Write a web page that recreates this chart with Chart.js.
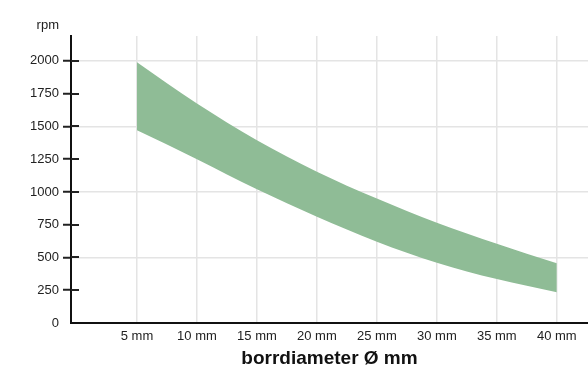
<!DOCTYPE html>
<html>
<head>
<meta charset="utf-8">
<script src="https://cdn.jsdelivr.net/npm/chart.js@4"></script>
<style>
  html, body { margin: 0; padding: 0; background: #fff; }
  #wrap { width: 588px; height: 368px; }
</style>
</head>
<body>
<div id="wrap"><canvas id="myChart"></canvas></div>
<script>
// drill diameters (mm) and recommended speed range (rpm)
const diameters = [5, 10, 15, 20, 25, 30, 35, 40];
const rpmMax = [1990, 1675, 1395, 1155, 950, 765, 605, 455];
const rpmMin = [1470, 1250, 1020, 810, 620, 460, 335, 235];
const yTickValues = [0, 250, 500, 750, 1000, 1250, 1500, 1750, 2000];
const xTitle = 'borrdiameter Ø mm';
const yUnit = 'rpm';

const FONT = "'Liberation Sans', Arial, Helvetica, sans-serif";
const bandColor = 'rgb(143, 188, 150)';

// draws the part of the y tick marks inside the plot, plus the "rpm" label
const axisExtras = {
  id: 'axisExtras',
  afterDraw(chart) {
    const ctx = chart.ctx;
    const y = chart.scales.y;
    const left = chart.chartArea.left;
    ctx.save();
    ctx.strokeStyle = '#222';
    ctx.lineWidth = 2;
    y.ticks.forEach(t => {
      if (t.value === 0) return;
      const py = Math.round(y.getPixelForValue(t.value));
      ctx.beginPath();
      ctx.moveTo(left, py);
      ctx.lineTo(left + 8, py);
      ctx.stroke();
    });
    ctx.fillStyle = '#222';
    ctx.font = '13px ' + FONT;
    ctx.textAlign = 'right';
    ctx.textBaseline = 'middle';
    ctx.fillText(yUnit, left - 12, chart.chartArea.top - 11);
    ctx.restore();
  }
};

const ctx = document.getElementById('myChart').getContext('2d');
const chart = new Chart(ctx, {
  type: 'line',
  data: {
    datasets: [{
      label: 'min',
      data: diameters.map((d, i) => ({ x: d, y: rpmMin[i] })),
      borderWidth: 0,
      pointRadius: 0,
      fill: false,
      cubicInterpolationMode: 'monotone'
    }, {
      label: 'max',
      data: diameters.map((d, i) => ({ x: d, y: rpmMax[i] })),
      borderWidth: 0,
      pointRadius: 0,
      backgroundColor: bandColor,
      fill: '-1',
      cubicInterpolationMode: 'monotone'
    }]
  },
  options: {
    responsive: true,
    maintainAspectRatio: false,
    animation: false,
    layout: { padding: { top: 36, left: 0, right: 0, bottom: 0 } },
    plugins: {
      legend: { display: false },
      tooltip: { enabled: false }
    },
    scales: {
      x: {
        type: 'linear',
        min: -0.5,
        max: 42.6,
        afterBuildTicks: s => { s.ticks = diameters.map(v => ({ value: v })); },
        afterFit: s => { s.height = 45; },
        grid: {
          color: '#e4e4e4',
          lineWidth: 1.5,
          drawTicks: false
        },
        border: { color: '#111', width: 2 },
        ticks: {
          padding: 6,
          color: '#222',
          font: { family: FONT, size: 13 },
          maxRotation: 0,
          callback: v => v + ' mm'
        },
        title: {
          display: true,
          text: xTitle,
          color: '#111',
          font: { family: FONT, size: 19, weight: 'bold', lineHeight: 1 },
          padding: { top: 0, bottom: 0 }
        }
      },
      y: {
        min: 0,
        max: 2190,
        afterBuildTicks: s => { s.ticks = yTickValues.map(v => ({ value: v })); },
        afterFit: s => { s.width = 71; },
        grid: {
          color: c => (c.tick && c.tick.value % 500 === 0) ? '#e4e4e4' : 'rgba(0,0,0,0)',
          lineWidth: 1.5,
          tickLength: 8,
          tickWidth: 2,
          tickColor: c => (c.tick && c.tick.value === 0) ? 'rgba(0,0,0,0)' : '#222'
        },
        border: { color: '#111', width: 2 },
        ticks: {
          padding: 4,
          color: '#222',
          font: { family: FONT, size: 13 },
          callback: v => String(v)
        }
      }
    }
  },
  plugins: [axisExtras]
});
</script>
</body>
</html>
